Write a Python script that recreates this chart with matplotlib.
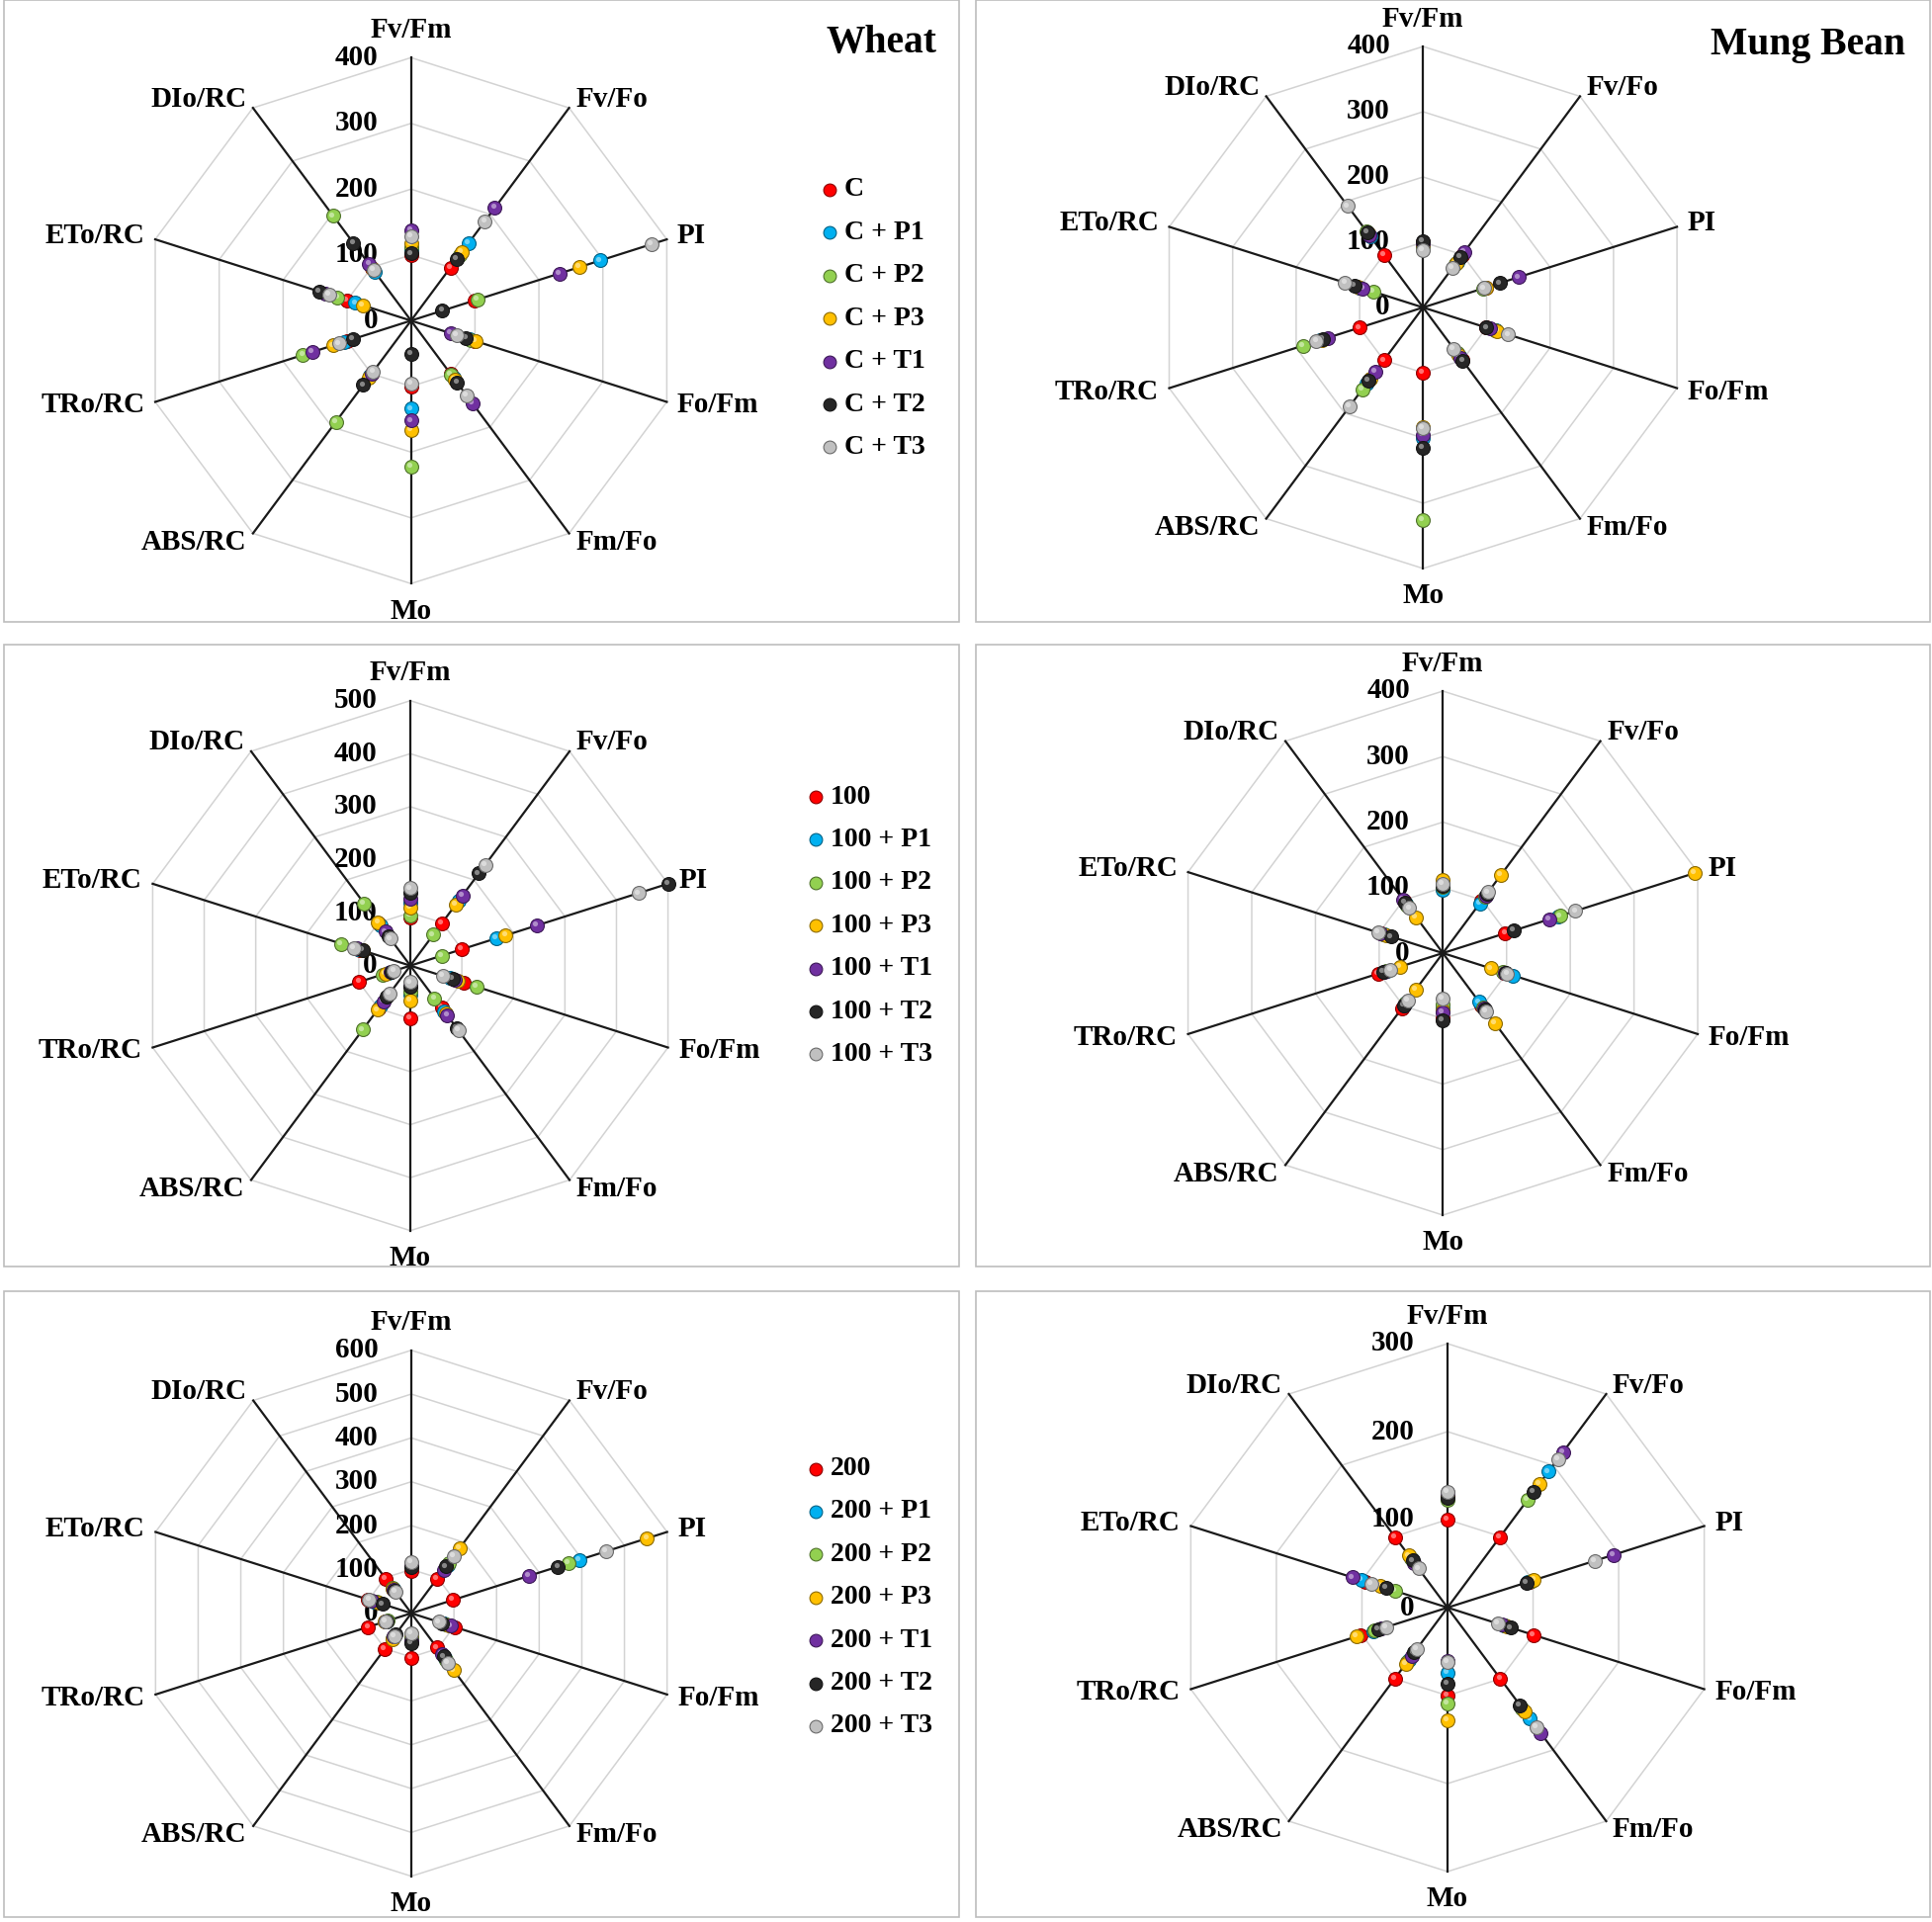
import numpy as np
import matplotlib
matplotlib.use('Agg')
import matplotlib.pyplot as plt
import matplotlib.colors as mcolors
from matplotlib.patches import Rectangle
from matplotlib.transforms import offset_copy

plt.rcParams['font.family'] = ['Liberation Serif', 'DejaVu Serif']
plt.rcParams['font.weight'] = 'bold'

# axes of every radar, clockwise from the top
categories = ['Fv/Fm', 'Fv/Fo', 'PI', 'Fo/Fm', 'Fm/Fo', 'Mo', 'ABS/RC', 'TRo/RC', 'ETo/RC', 'DIo/RC']
suffixes = ['', ' + P1', ' + P2', ' + P3', ' + T1', ' + T2', ' + T3']
colors = ['#ff0000', '#00b0f0', '#92d050', '#ffc000', '#7030a0', '#262626', '#c0c0c0']

# rows: C, +P1, +P2, +P3, +T1, +T2, +T3 ; values in % of control
wheat_c = [
    [100, 100, 100, 100, 100, 100, 100, 100, 100, 100],
    [109, 145, 296, 91, 108, 134, 104, 105, 87, 92],
    [112, 124, 104, 94, 101, 222, 190, 169, 115, 197],
    [117, 129, 263, 101, 111, 166, 108, 122, 76, 98],
    [137, 212, 232, 62, 156, 152, 99, 154, 134, 106],
    [102, 116, 49, 86, 117, 51, 121, 91, 144, 146],
    [129, 187, 376, 71, 140, 96, 96, 112, 128, 95],
]
mung_c = [
    [100, 100, 100, 100, 100, 100, 100, 100, 100, 100],
    [95, 87, 98, 115, 92, 200, 145, 162, 100, 135],
    [93, 82, 94, 113, 87, 326, 155, 189, 79, 145],
    [97, 85, 100, 117, 89, 183, 135, 160, 103, 140],
    [99, 105, 150, 105, 95, 195, 121, 150, 95, 137],
    [102, 95, 121, 100, 101, 215, 139, 158, 108, 143],
    [88, 75, 96, 134, 78, 185, 187, 168, 123, 192],
]
wheat_100 = [
    [91, 98, 100, 104, 98, 100, 99, 99, 97, 98],
    [118, 151, 166, 77, 107, 54, 93, 43, 101, 93],
    [95, 72, 61, 129, 76, 49, 149, 54, 134, 145],
    [109, 143, 185, 92, 112, 65, 103, 48, 93, 101],
    [127, 163, 245, 86, 116, 38, 84, 39, 104, 79],
    [138, 215, 500, 82, 146, 39, 73, 37, 93, 68],
    [146, 235, 443, 63, 151, 31, 65, 32, 109, 63],
]
mung_100 = [
    [100, 98, 98, 96, 98, 99, 104, 102, 96, 98],
    [97, 94, 181, 110, 92, 84, 93, 87, 92, 93],
    [101, 107, 184, 94, 102, 79, 96, 89, 94, 90],
    [111, 148, 395, 75, 133, 87, 69, 67, 89, 68],
    [104, 109, 167, 98, 105, 90, 98, 92, 98, 101],
    [102, 112, 111, 99, 107, 103, 99, 94, 81, 96],
    [106, 115, 208, 101, 110, 69, 89, 82, 102, 85],
]
wheat_200 = [
    [96, 97, 98, 103, 97, 102, 101, 101, 101, 98],
    [113, 137, 394, 77, 127, 54, 68, 58, 87, 68],
    [108, 142, 368, 82, 132, 59, 70, 56, 82, 73],
    [111, 184, 553, 87, 161, 49, 73, 63, 77, 70],
    [110, 123, 276, 93, 115, 64, 66, 60, 92, 66],
    [106, 132, 344, 72, 122, 68, 60, 58, 68, 63],
    [116, 161, 457, 64, 139, 45, 64, 61, 99, 60],
]
mung_200 = [
    [100, 99, 96, 100, 100, 100, 100, 102, 96, 99],
    [128, 191, 94, 66, 156, 74, 73, 87, 101, 68],
    [123, 152, 98, 67, 141, 109, 76, 85, 61, 70],
    [126, 174, 101, 69, 146, 128, 79, 106, 79, 73],
    [130, 218, 194, 63, 176, 61, 68, 77, 111, 63],
    [125, 163, 92, 74, 137, 86, 63, 81, 72, 66],
    [132, 209, 172, 59, 168, 62, 58, 72, 89, 55],
]

W, H = 1954, 1944
fig = plt.figure(figsize=(W / 100, H / 100), dpi=100)

# background layer in pixel coordinates for frames and legends
bg = fig.add_axes([0, 0, 1, 1], zorder=-1)
bg.set_xlim(0, W)
bg.set_ylim(H, 0)
bg.axis('off')

frames = [(4, 0, 970, 629), (987, 0, 1952, 629), (4, 652, 970, 1281),
          (987, 652, 1952, 1281), (4, 1306, 970, 1939), (987, 1306, 1952, 1939)]
for x0, y0, x1, y1 in frames:
    bg.add_patch(Rectangle((x0, y0), x1 - x0, y1 - y0, fill=False, ec='#bdbdbd', lw=1.2))


def darker(c, f=0.55):
    r, g, b = mcolors.to_rgb(c)
    return (r * f, g * f, b * f)


def draw_radar(cx, cy, rx, ry, vals, rmax):
    ax = fig.add_axes([(cx - rx) / W, 1 - (cy + ry) / H, 2 * rx / W, 2 * ry / H], projection='polar')
    ax.set_aspect('auto')
    ax.set_theta_offset(np.pi / 2)
    ax.set_theta_direction(-1)
    ax.set_ylim(0, rmax)
    ax.set_xticks([])
    ax.set_yticks([])
    ax.grid(False)
    ax.spines['polar'].set_visible(False)
    ax.patch.set_alpha(0)

    n = len(categories)
    theta = np.arange(n) * 2 * np.pi / n
    ring_t = np.append(theta, theta[0])
    for r in range(100, rmax + 1, 100):
        ax.plot(ring_t, [r] * (n + 1), color='#d3d3d3', lw=1.1, zorder=1, clip_on=False)
    for t in theta:
        ax.plot([t, t], [0, rmax], color='#1a1a1a', lw=1.6, zorder=2, clip_on=False)

    for r in range(0, rmax + 1, 100):
        ax.annotate(str(r), xy=(0, r), xytext=(-24, 0), textcoords='offset points',
                    ha='right', va='center', fontsize=21, fontweight='bold', zorder=3)

    for t, lab in zip(theta, categories):
        a = np.pi / 2 - t
        side = abs(np.cos(a)) > 0.1
        d = 8 if side else 20
        dx, dy = d * np.cos(a), d * np.sin(a)
        if np.cos(a) > 0.1:
            ha = 'left'
        elif np.cos(a) < -0.1:
            ha = 'right'
        else:
            ha = 'center'
        ax.annotate(lab, xy=(t, rmax), xytext=(dx, dy), textcoords='offset points',
                    ha=ha, va='center', fontsize=21, fontweight='bold', annotation_clip=False)

    shine = offset_copy(ax.transData, fig=fig, x=-1.3, y=1.3, units='points')
    for k, row in enumerate(vals):
        ax.scatter(theta, row, s=100, color=colors[k], edgecolors=darker(colors[k]),
                   linewidths=0.8, zorder=5 + 2 * k, clip_on=False)
        ax.scatter(theta, row, s=14, color='white', alpha=0.45, lw=0,
                   transform=shine, zorder=6 + 2 * k, clip_on=False)
    return ax


def draw_legend(x, y0, prefix):
    for k, suf in enumerate(suffixes):
        y = y0 + 43.4 * k
        bg.scatter([x], [y], s=85, color=colors[k], edgecolors=darker(colors[k]), linewidths=0.8)
        bg.text(x + 15, y, prefix + suf, fontsize=20, fontweight='bold', va='center', ha='left')


draw_radar(415.7, 324.3, 272, 266, wheat_c, 400)
draw_radar(1439.3, 311, 270, 264, mung_c, 400)
draw_radar(415, 976.7, 274, 268, wheat_100, 500)
draw_radar(1459.3, 964, 271, 265, mung_100, 400)
draw_radar(416, 1631.7, 272, 266, wheat_200, 600)
draw_radar(1464, 1626, 273, 267, mung_200, 300)

draw_legend(839, 192, 'C')
draw_legend(825, 806, '100')
draw_legend(825, 1485.5, '200')

bg.text(891, 44, 'Wheat', fontsize=28.5, fontweight='bold', ha='center', va='center')
bg.text(1829, 46, 'Mung Bean', fontsize=28.5, fontweight='bold', ha='center', va='center')

fig.savefig('out.png', dpi=100)
